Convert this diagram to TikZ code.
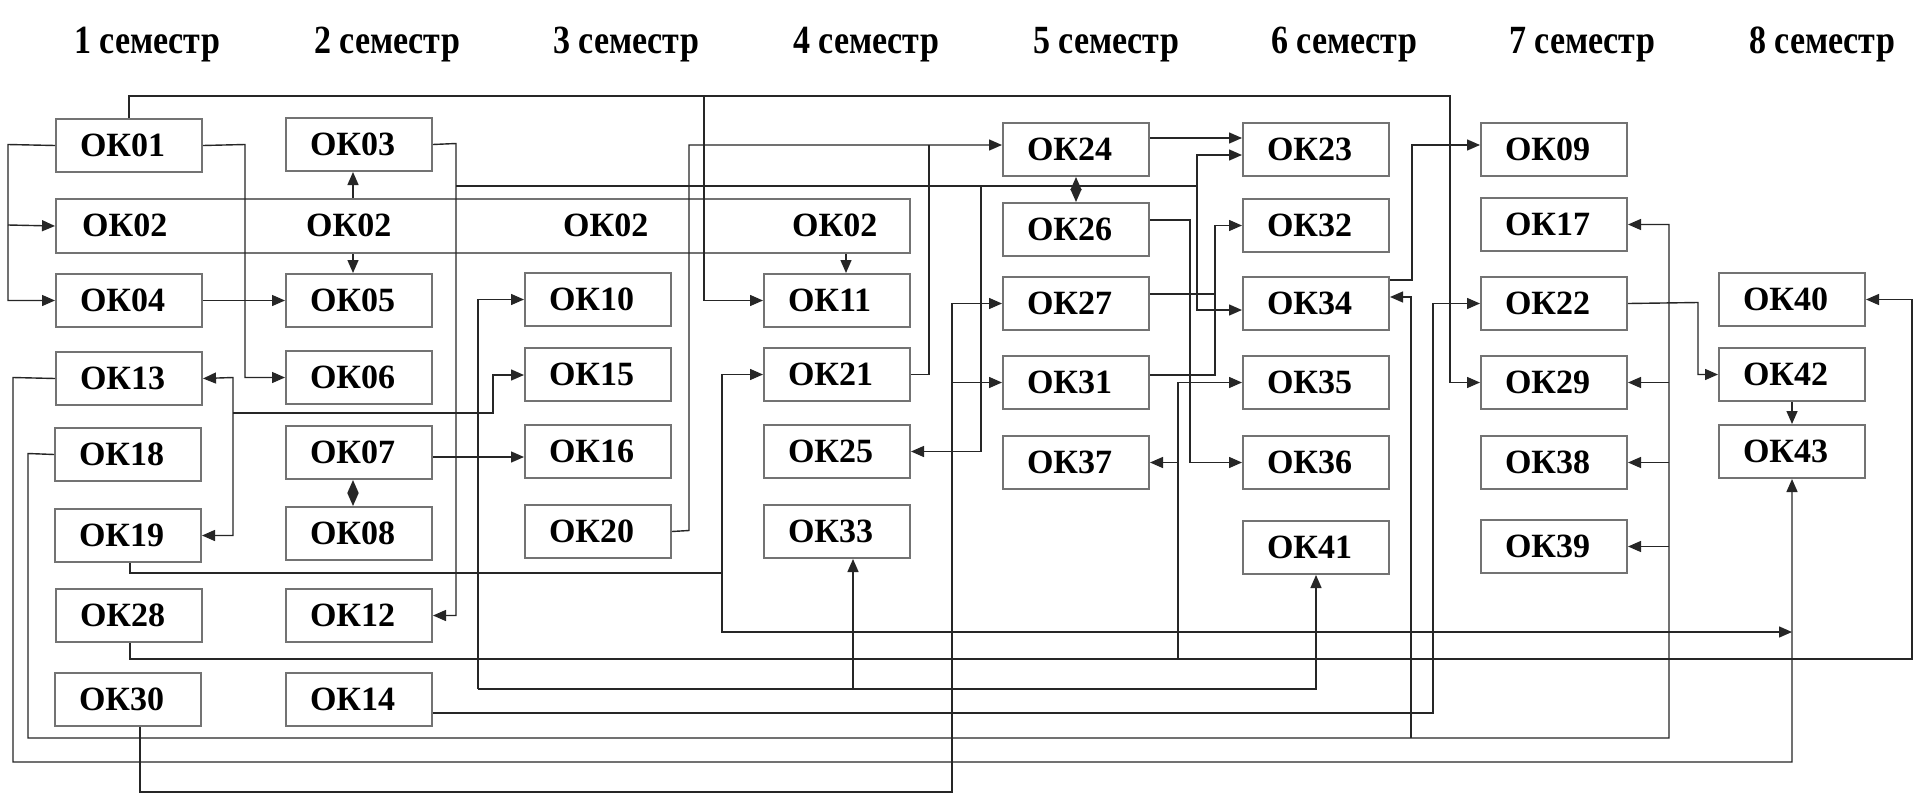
\documentclass[tikz,border=0pt]{standalone}
\usepackage{fontspec}
\setmainfont{Liberation Serif}
\usetikzlibrary{arrows.meta}
\tikzset{
  okbox/.style={draw=black!55, line width=2pt, minimum height=53pt, text width=98pt,
    inner xsep=24pt, inner ysep=0pt, align=left, anchor=north west,
    font=\fontsize{34}{38}\selectfont\bfseries},
  widebox/.style={draw=black!55, line width=2pt, minimum width=854pt, minimum height=54pt,
    inner sep=0pt, anchor=north west},
  lbl/.style={anchor=west, inner sep=0pt, font=\fontsize{34}{38}\selectfont\bfseries},
  head/.style={inner sep=0pt, anchor=base, xscale=0.85, font=\fontsize{40}{44}\selectfont\bfseries},
  conn/.style={draw=black!85, line width=1.4pt},
  arr/.style={conn, -{Triangle[length=13pt,width=11pt]}},
  darr/.style={conn, {Triangle[length=13pt,width=11pt]}-{Triangle[length=13pt,width=11pt]}}
}
\begin{document}
\begin{tikzpicture}[x=1pt,y=-1pt]
\useasboundingbox (0,0) rectangle (1921,795);
\fill[white] (0,0) rectangle (1921,795);
% headers
\node[head] (s1) at (147,53) {1 семестр};
\node[head] (s2) at (387,53) {2 семестр};
\node[head] (s3) at (626,53) {3 семестр};
\node[head] (s4) at (866,53) {4 семестр};
\node[head] (s5) at (1106,53) {5 семестр};
\node[head] (s6) at (1344,53) {6 семестр};
\node[head] (s7) at (1582,53) {7 семестр};
\node[head] (s8) at (1822,53) {8 семестр};
% column 1
\node[okbox] (ok01) at (55,118) {ОК01};
\node[widebox] (ok02) at (55,198) {};
\node[lbl] (t02a) at (82,225) {ОК02};
\node[lbl] (t02b) at (306,225) {ОК02};
\node[lbl] (t02c) at (563,225) {ОК02};
\node[lbl] (t02d) at (792,225) {ОК02};
\node[okbox] (ok04) at (55,273) {ОК04};
\node[okbox] (ok13) at (55,351) {ОК13};
\node[okbox] (ok18) at (54,427) {ОК18};
\node[okbox] (ok19) at (54,508) {ОК19};
\node[okbox] (ok28) at (55,588) {ОК28};
\node[okbox] (ok30) at (54,672) {ОК30};
% column 2
\node[okbox] (ok03) at (285,117) {ОК03};
\node[okbox] (ok05) at (285,273) {ОК05};
\node[okbox] (ok06) at (285,350) {ОК06};
\node[okbox] (ok07) at (285,425) {ОК07};
\node[okbox] (ok08) at (285,506) {ОК08};
\node[okbox] (ok12) at (285,588) {ОК12};
\node[okbox] (ok14) at (285,672) {ОК14};
% column 3
\node[okbox] (ok10) at (524,272) {ОК10};
\node[okbox] (ok15) at (524,347) {ОК15};
\node[okbox] (ok16) at (524,424) {ОК16};
\node[okbox] (ok20) at (524,504) {ОК20};
% column 4
\node[okbox] (ok11) at (763,273) {ОК11};
\node[okbox] (ok21) at (763,347) {ОК21};
\node[okbox] (ok25) at (763,424) {ОК25};
\node[okbox] (ok33) at (763,504) {ОК33};
% column 5
\node[okbox] (ok24) at (1002,122) {ОК24};
\node[okbox] (ok26) at (1002,202) {ОК26};
\node[okbox] (ok27) at (1002,276) {ОК27};
\node[okbox] (ok31) at (1002,355) {ОК31};
\node[okbox] (ok37) at (1002,435) {ОК37};
% column 6
\node[okbox] (ok23) at (1242,122) {ОК23};
\node[okbox] (ok32) at (1242,198) {ОК32};
\node[okbox] (ok34) at (1242,276) {ОК34};
\node[okbox] (ok35) at (1242,355) {ОК35};
\node[okbox] (ok36) at (1242,435) {ОК36};
\node[okbox] (ok41) at (1242,520) {ОК41};
% column 7
\node[okbox] (ok09) at (1480,122) {ОК09};
\node[okbox] (ok17) at (1480,197) {ОК17};
\node[okbox] (ok22) at (1480,276) {ОК22};
\node[okbox] (ok29) at (1480,355) {ОК29};
\node[okbox] (ok38) at (1480,435) {ОК38};
\node[okbox] (ok39) at (1480,519) {ОК39};
% column 8
\node[okbox] (ok40) at (1718,272) {ОК40};
\node[okbox] (ok42) at (1718,347) {ОК42};
\node[okbox] (ok43) at (1718,424) {ОК43};

% ---- connectors ----
% OK01
\draw[arr] (ok01.north) |- (1450,96) |- (ok29.west);
\draw[arr] (704,96) |- (ok11.west);
\draw[arr] (ok01.west) -- (8,144.5) |- (ok04.west);
\draw[arr] (8,225) -- (ok02.west);
\draw[arr] (ok01.east) -- (245,144.5) |- (ok06.west);
\draw[arr] (ok04.east) -- (ok05.west);
% OK02
\draw[arr] (353,0 |- ok02.north) -- (353,0 |- ok03.south);
\draw[arr] (353,0 |- ok02.south) -- (353,0 |- ok05.north);
\draw[arr] (846,0 |- ok02.south) -- (846,0 |- ok11.north);
% OK03
\draw[arr] (ok03.east) -- (456,143.5) |- (ok12.east);
\draw[conn] (456,186) -- (1197,186);
\draw[arr] (1197,186) |- (ok23.west |- 0,155);
\draw[arr] (1197,186) |- (ok34.west |- 0,310);
\draw[arr] (981,186) |- (ok25.east);
% OK24 -> OK23, OK24 <-> OK26
\draw[arr] (ok24.east |- 0,138) -- (ok23.west |- 0,138);
\draw[darr] (ok24.south) -- (ok26.north);
% OK07
\draw[darr] (353,0 |- ok07.south) -- (353,0 |- ok08.north);
\draw[arr] (ok07.east |- 0,457) -- (ok16.west |- 0,457);
% OK20, OK21 -> OK24
\draw[arr] (ok20.east) -- (689,530.5) |- (ok24.west |- 0,145);
\draw[conn] (ok21.east) -| (929,145);
% OK19
\draw[conn] (130,0 |- ok19.south) |- (722,573);
\draw[arr] (722,573) |- (ok21.west);
\coordinate (j43) at (ok43.south |- 0,632);
\draw[arr] (722,573) |- (j43);
% OK28
\draw[arr] (130,0 |- ok28.south) |- (1912,659) |- (ok40.east);
\draw[arr] (1178,659) |- (ok35.west);
\draw[arr] (1178,0 |- ok37.east) -- (ok37.east);
% OK26 -> OK36
\draw[arr] (ok26.east |- 0,220) -- (1190,220) |- (ok36.west);
% OK27, OK31 -> OK32
\draw[conn] (ok27.east |- 0,294) -- (1215,294);
\draw[arr] (ok31.east |- 0,375) -- (1215,375) |- (ok32.west);
% OK30
\draw[arr] (140,0 |- ok30.south) |- (952,792) |- (ok27.west);
\draw[arr] (952,0 |- ok31.west) -- (ok31.west);
% OK34 -> OK09
\draw[arr] (ok34.east |- 0,280) -- (1412,280) |- (ok09.west |- 0,145);
% OK18
\draw[arr] (ok18.west) -- (28,453.5) |- (1669,738) |- (ok17.east);
\draw[arr] (1669,0 |- ok29.east) -- (ok29.east);
\draw[arr] (1669,0 |- ok38.east) -- (ok38.east);
\draw[arr] (1669,0 |- ok39.east) -- (ok39.east);
\draw[arr] (1411,738) |- (ok34.east |- 0,297);
% OK14 -> OK22
\draw[arr] (ok14.east |- 0,713) -- (1433,713) |- (ok22.west);
% OK13 -> OK43
\draw[arr] (ok13.west) -- (13,377.5) |- (ok43.south |- 0,762) -- (ok43.south);
% OK22 -> OK42 -> OK43
\draw[arr] (ok22.east) -- (1698,302.5) |- (ok42.west);
\draw[arr] (ok42.south) -- (ok43.north);
% network at x=233
\draw[darr] (ok13.east) -- (233,377.5) |- (ok19.east);
\draw[arr] (233,413) -| (493,375) -- (ok15.west |- 0,375);
% network at x=478
\draw[arr] (478,689) |- (ok10.west);
\draw[arr] (478,689) -| (ok41.south);
\draw[arr] (853,689) -- (853,0 |- ok33.south);
\end{tikzpicture}
\end{document}
